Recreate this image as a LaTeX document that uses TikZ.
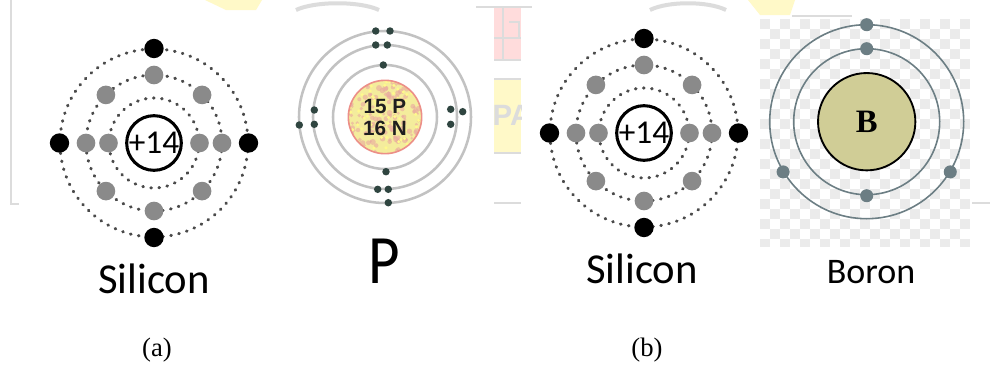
\documentclass[tikz,border=0pt]{standalone}
\usepackage{fontspec}
\setmainfont{Liberation Serif}
\newfontfamily\labelfont{Carlito}
\newfontfamily\nucfont{Liberation Sans}

\definecolor{valgreyc}{HTML}{8A8A8A}
\definecolor{dotgrey}{HTML}{4A4A4A}
\definecolor{ringgrey}{HTML}{C2C2C2}
\definecolor{pelectron}{HTML}{2F4540}
\definecolor{nucyellow}{HTML}{F4EC9C}
\definecolor{nucpink}{HTML}{E9A8A0}
\definecolor{borontan}{HTML}{D0CD96}
\definecolor{slate}{HTML}{6C7E84}
\definecolor{checkgrey}{HTML}{EBEBEB}
\definecolor{wmgrey}{HTML}{DCDCDC}
\definecolor{wmyellow}{HTML}{FFF9C8}
\definecolor{wmpink}{HTML}{FFDCDC}

\tikzset{
  orbitdots/.style={draw=dotgrey, line width=2.3pt, line cap=round,
    dash pattern=on 0.5pt off 5.6pt},
  valgrey/.style={circle, fill=valgreyc, inner sep=0pt, minimum size=14pt},
  valblack/.style={circle, fill=black, inner sep=0pt, minimum size=14.5pt},
  sinucleus/.style={circle, draw=black, line width=2.3pt, fill=white,
    inner sep=0pt, minimum size=34pt,
    font=\labelfont\fontsize{25}{28}\selectfont},
  pring/.style={draw=ringgrey, line width=1.9pt},
  pel/.style={circle, fill=pelectron, inner sep=0pt, minimum size=5.6pt},
  pnucleus/.style={circle, inner sep=0pt, minimum size=55pt,
    draw=nucpink!85!red, line width=1.2pt},
  pnuctext/.style={align=center, text=black!88, inner sep=0pt,
    font=\nucfont\bfseries\fontsize{15.5}{16.5}\selectfont},
  bring/.style={draw=slate, line width=1.2pt},
  bel/.style={circle, fill=slate, inner sep=0pt, minimum size=9.8pt},
  bnucleus/.style={circle, fill=borontan, draw=black, line width=1.4pt,
    inner sep=0pt, minimum size=73pt,
    font=\bfseries\fontsize{24.5}{28}\selectfont},
  atomlabel/.style={anchor=base, inner sep=0pt,
    font=\labelfont\fontsize{32}{36}\selectfont},
  caption/.style={anchor=base, inner sep=0pt,
    font=\fontsize{20}{24}\selectfont},
  pics/silicon/.style={code={
    \draw[orbitdots] (0,0) circle[radius=45];
    \draw[orbitdots] (0,0) circle[radius=68];
    \draw[orbitdots] (0,0) circle[radius=94];
    \node[sinucleus] (-nuc) at (0,0) {+14};
    \foreach \a in {0,180} \node[valgrey] (-in\a) at (\a:45.5) {};
    \foreach \a in {0,45,...,315} \node[valgrey] (-mid\a) at (\a:68) {};
    \foreach \a in {0,90,180,270} \node[valblack] (-out\a) at (\a:94.5) {};
  }}
}

\begin{document}
\begin{tikzpicture}[x=0.75pt, y=-0.75pt]
\useasboundingbox (0,0) rectangle (990,375);
\fill[white] (0,0) rectangle (990,375);

% faint background logo, seen only between the figures
\draw[wmgrey, line width=2.2pt] (11,0) -- (11,204) -- (19,204);
\draw[wmgrey, line width=2.2pt] (972,203) -- (990,203);
\draw[wmgrey, line width=2.2pt] (792,16) -- (852,16);
\fill[wmyellow] (205,0) -- (262,0) -- (256,10) -- (226,10) -- cycle;
\fill[wmyellow] (748,0) -- (795,0) -- (790,15) -- (760,15) -- cycle;
\draw[wmgrey, line width=3pt] (296,10) .. controls (315,1) and (360,1) .. (379,10);
\draw[wmgrey, line width=3pt] (650,10) .. controls (668,1) and (708,1) .. (726,10);
\fill[wmpink] (494,7) rectangle (521,60);
\draw[wmgrey, line width=1.2pt] (476,7) -- (532,7);
\draw[wmgrey, line width=1.2pt] (503,7) -- (503,60);
\draw[wmgrey, line width=1.2pt] (494,38) -- (521,38);
\draw[wmgrey, line width=1.2pt] (509,22) -- (519,22) -- (519,38);
\draw[wmgrey, line width=2pt] (494,60) -- (521,60);
\begin{scope}
  \clip (494,79) rectangle (521,154);
  \fill[wmyellow] (494,79) rectangle (521,154);
  \node[text=wmgrey, font=\nucfont\bfseries\fontsize{22}{24}\selectfont]
    (wmtext) at (512,115) {PA};
\end{scope}
\draw[wmgrey, line width=2pt] (494,79) -- (521,79);
\draw[wmgrey, line width=2pt] (494,153) -- (521,153);
\draw[wmgrey, line width=2pt] (494,203) -- (521,203);

% silicon atoms
\pic (siA) at (154,143) {silicon};
\pic (siB) at (644,133) {silicon};
\node[atomlabel] (siAlabel) at (154,293) {Silicon};
\node[atomlabel] (siBlabel) at (642,283) {Silicon};

% phosphorus atom
\coordinate (pc) at (385,117);
\draw[pring] (pc) circle[radius=52];
\draw[pring] (pc) circle[radius=72];
\draw[pring] (pc) circle[radius=86];
% mottled nucleus
\begin{scope}
  \clip (pc) circle[radius=36.5];
  \fill[nucyellow] (pc) circle[radius=36.5];
  \pgfmathsetseed{11}
  \foreach \n in {1,...,150} {
    \pgfmathsetmacro\rx{348+74*rnd}
    \pgfmathsetmacro\ry{80+74*rnd}
    \pgfmathsetmacro\rr{1.3+1.7*rnd}
    \fill[nucpink, opacity=0.6] (\rx,\ry) circle[radius=\rr];
  }
  \foreach \n in {1,...,70} {
    \pgfmathsetmacro\rx{348+74*rnd}
    \pgfmathsetmacro\ry{80+74*rnd}
    \fill[yellow!45!white] (\rx,\ry) circle[radius=1.7];
  }
\end{scope}
\node[pnucleus] (pnuc) at (pc) {};
\node[pnuctext] (pnuctxt) at (pc) {15 P\\16 N};
\foreach \p [count=\k] in {(383.3,65),(386,171.7),
    (375.7,45),(387.3,45),(377.7,189.3),(388.3,189.3),
    (314.3,110),(314.3,124.3),(450.7,109.3),(450.7,124.3),
    (375.7,31),(390,31),(299.3,125),(462.7,111.7),(388.3,202.7)}
  \node[pel] (pe\k) at \p {};
\node[anchor=base, inner sep=0pt, font=\labelfont\fontsize{52}{56}\selectfont]
  (plabel) at (384,283) {\scalebox{0.88}[1]{P}};

% boron atom on a chequered backdrop
\begin{scope}
  \clip (760,19) rectangle (970,246);
  \foreach \i in {0,...,20} \foreach \j in {0,...,22} {
    \pgfmathtruncatemacro\chk{mod(\i+\j,2)}
    \ifnum\chk=0
      \fill[checkgrey] (760+10*\i,19+10*\j) rectangle ++(10,10);
    \fi
  }
\end{scope}
\begin{scope}[shift={(866.7,121.7)}]
  \draw[bring] (0,0) circle[radius=73];
  \draw[bring] (0,0) circle[radius=97];
  \node[bnucleus] (bnuc) at (0,0) {B};
  \node[bel] (be1) at (270:73) {};
  \node[bel] (be2) at (90:74) {};
  \node[bel] (be3) at (270:97) {};
  \node[bel] (be4) at (149:97.5) {};
  \node[bel] (be5) at (31:97.5) {};
\end{scope}
\node[atomlabel, font=\labelfont\fontsize{27}{30}\selectfont]
  (blabel) at (871,283) {Boron};

% captions
\node[caption] (capa) at (157,356) {(a)};
\node[caption] (capb) at (647,356) {(b)};
\end{tikzpicture}
\end{document}
